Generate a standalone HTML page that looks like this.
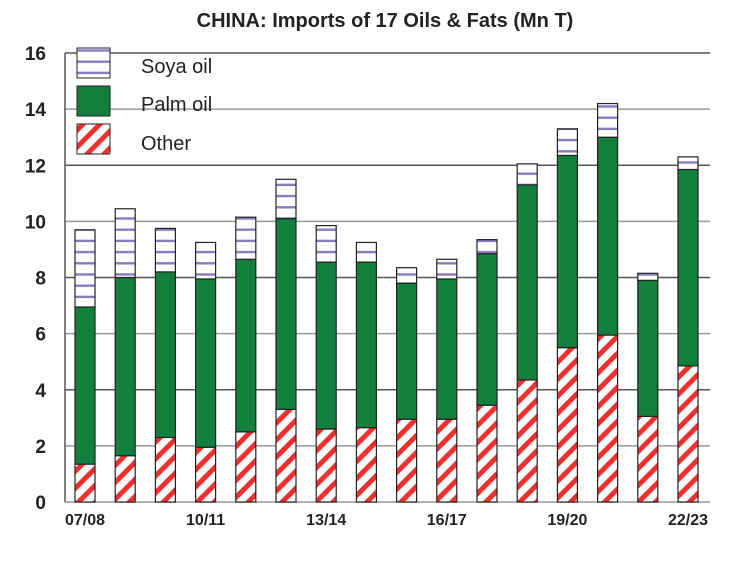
<!DOCTYPE html>
<html><head><meta charset="utf-8"><style>
body{margin:0;background:#fff;}
svg text{font-family:"Liberation Sans",Arial,sans-serif;}
</style></head><body>
<svg width="732" height="561" viewBox="0 0 732 561" xmlns="http://www.w3.org/2000/svg" id="chart">
<defs>
<pattern id="soya" patternUnits="userSpaceOnUse" width="20" height="11.2">
<rect width="20" height="11.2" fill="#fff"/><rect y="4.5" width="20" height="2.4" fill="#8a79bf"/>
</pattern>
<pattern id="other" patternUnits="userSpaceOnUse" width="12" height="12" patternTransform="rotate(45)">
<rect width="12" height="12" fill="#fff"/><rect width="5" height="12" fill="#f0302e"/>
</pattern>
</defs>
<text x="385" y="27" text-anchor="middle" font-size="20" font-weight="bold" fill="#222">CHINA: Imports of 17 Oils &amp; Fats (Mn T)</text>
<g id="grid"></g>
<g id="bars"></g>
<g id="axes"></g>
<g>
<rect x="77" y="48" width="33" height="30" fill="url(#soya)" stroke="#222"/>
<text x="141" y="73" font-size="20" fill="#222">Soya oil</text>
<rect x="77" y="86" width="33" height="30" fill="#137f3c" stroke="#222"/>
<text x="141" y="111" font-size="20" fill="#222">Palm oil</text>
<rect x="77" y="124" width="33" height="30" fill="url(#other)" stroke="#222"/>
<text x="141" y="150" font-size="20" fill="#222">Other</text>
</g>
</svg>
<script>
const categories=["07/08","08/09","09/10","10/11","11/12","12/13","13/14","14/15","15/16","16/17","17/18","18/19","19/20","20/21","21/22","22/23"];
const otherVals=[1.35,1.65,2.3,1.95,2.5,3.3,2.6,2.65,2.95,2.95,3.45,4.35,5.5,5.95,3.05,4.85];
const palmVals=[5.6,6.35,5.9,6.0,6.15,6.8,5.95,5.9,4.85,5.0,5.4,6.95,6.85,7.05,4.85,7.0];
const soyaVals=[2.75,2.45,1.55,1.3,1.5,1.4,1.3,0.7,0.55,0.7,0.5,0.75,0.95,1.2,0.25,0.45];
const yTicks=[0,2,4,6,8,10,12,14,16];
const xLabelIdx=[0,3,6,9,12,15];
const NS="http://www.w3.org/2000/svg";
const y=v=>502-v*28.06;
const x=i=>85+i*40.2;
const bw=20;
function mk(t,a,p){const e=document.createElementNS(NS,t);for(const k in a)e.setAttribute(k,a[k]);p.appendChild(e);return e;}
const grid=document.getElementById('grid'),bars=document.getElementById('bars'),axes=document.getElementById('axes');
yTicks.forEach(v=>{
 const l=mk('line',{x1:65,x2:710,y1:y(v),y2:y(v),stroke:v%4==0&&v>0?'#555':'#999','stroke-width':1.5},grid);
 
 
 const t=mk('text',{x:46,y:y(v)+7,'text-anchor':'end','font-size':19,'font-weight':'bold',fill:'#222'},axes);
 t.textContent=v;
 
 
});
const ax=mk('line',{x1:65,x2:65,y1:y(16),y2:y(0),stroke:'#555','stroke-width':1.5},axes);


categories.forEach((c,i)=>{
 const segs=[[0,otherVals[i],'url(#other)','other'],[otherVals[i],otherVals[i]+palmVals[i],'#137f3c','palm'],[otherVals[i]+palmVals[i],otherVals[i]+palmVals[i]+soyaVals[i],'url(#soya)','soya']];
 segs.forEach(s=>{
  const r=mk('rect',{x:x(i)-bw/2,y:y(s[1]),width:bw,height:y(s[0])-y(s[1]),fill:s[2],stroke:'#222','stroke-width':1.2},bars);
  
  
 });
});
xLabelIdx.forEach(i=>{
 const t=mk('text',{x:x(i),y:525,'text-anchor':'middle','font-size':16,'font-weight':'bold',fill:'#222'},axes);
 t.textContent=categories[i];
 
 
});
</script>
</body></html>
